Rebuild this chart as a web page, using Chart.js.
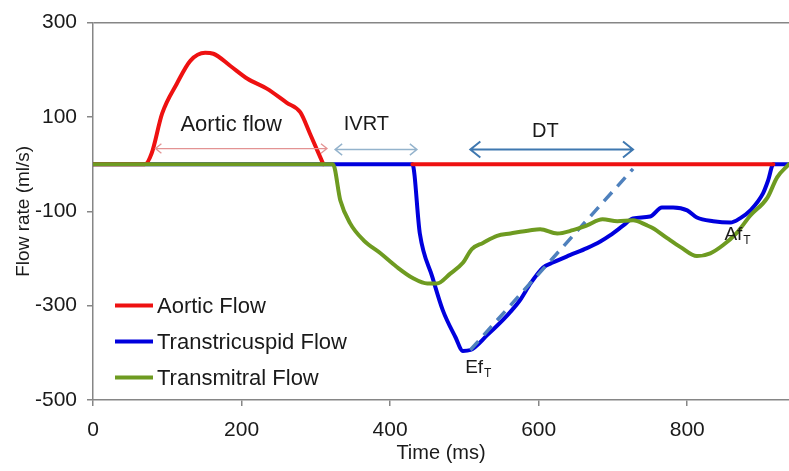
<!DOCTYPE html>
<html>
<head>
<meta charset="utf-8">
<script src="https://cdn.jsdelivr.net/npm/chart.js@4.4.1/dist/chart.umd.min.js"></script>
<style>
  html, body { margin: 0; padding: 0; background: #fff; }
  #wrap { width: 789px; height: 471px; }
</style>
</head>
<body>
<div id="wrap"><canvas id="grafico" width="789" height="471"></canvas></div>
<script>
// Time (ms) and flow (ml/s)
const aorticTime = [0, 70, 79, 93, 113, 131, 151, 162, 185, 208, 234, 261, 279, 292, 310, 370, 430, 916];
const aorticFlow = [0, 0, 23, 107, 171, 219, 236, 234, 208, 181, 160, 130, 110, 65, 0, null, 0, 0];

const tricTime = [0, 430, 440, 457, 471, 488, 498, 508, 531, 558, 575, 589, 606, 620, 642, 665, 683, 696, 714, 727, 750, 766, 781, 800, 813, 835, 858, 871, 885, 902, 909, 916, 937];
const tricFlow = [0, 0, -147, -240, -310, -367, -396, -394, -362, -320, -288, -253, -219, -208, -193, -178, -164, -151, -130, -115, -111, -92, -92, -98, -113, -121, -124, -115, -98, -62, -34, 0, 0];

const mitralTime = [0, 323, 333, 346, 364, 387, 409, 431, 450, 463, 481, 498, 510, 525, 544, 562, 589, 602, 625, 646, 665, 686, 706, 727, 746, 754, 773, 791, 813, 831, 848, 867, 885, 908, 921, 937];
const mitralFlow = [0, 0, -77, -125, -161, -189, -218, -242, -253, -253, -232, -209, -180, -167, -152, -147, -140, -138, -147, -140, -130, -117, -121, -119, -130, -136, -157, -176, -195, -189, -172, -145, -109, -71, -28, 0];

// deceleration slope (dashed)
const slopeTime = [508, 727];
const slopeFlow = [-394, -10];

const yTicks = [-500, -300, -100, 100, 300];
const xTicks = [0, 200, 400, 600, 800];

const seriesNames = ['Aortic Flow', 'Transtricuspid Flow', 'Transmitral Flow'];
const seriesColors = ['#ee1111', '#0000dd', '#6e9b21'];

const toPoints = (xs, ys) => xs.map((x, i) => ({ x: x, y: ys[i] }));

// interval arrows: [from ms, to ms, at flow, colour, width, head]
const arrows = [
  [84, 315, 33, '#e39393', 1.3, 6],
  [326, 436, 31, '#94b3cc', 1.5, 7],
  [508, 727, 31, '#3f78b0', 2, 10]
];
// labels: [text, sub, ms, flow, align, size]
const labels = [
  ['Aortic flow', '', 186, 84, 'center', 22],
  ['IVRT', '', 368, 84, 'center', 20],
  ['DT', '', 609, 69, 'center', 20],
  ['Ef', 'T', 501, -432, 'left', 19],
  ['Af', 'T', 850, -149, 'left', 19]
];

const extras = {
  id: 'extras',
  afterDatasetsDraw(chart) {
    const c = chart.ctx, xs = chart.scales.x, ys = chart.scales.y, area = chart.chartArea;
    c.save();
    arrows.forEach(a => {
      const x1 = xs.getPixelForValue(a[0]), x2 = xs.getPixelForValue(a[1]), y = ys.getPixelForValue(a[2]);
      c.strokeStyle = a[3]; c.lineWidth = a[4];
      c.beginPath();
      c.moveTo(x1, y); c.lineTo(x2, y);
      c.moveTo(x1 + a[5], y - a[5] * 0.8); c.lineTo(x1, y); c.lineTo(x1 + a[5], y + a[5] * 0.8);
      c.moveTo(x2 - a[5], y - a[5] * 0.8); c.lineTo(x2, y); c.lineTo(x2 - a[5], y + a[5] * 0.8);
      c.stroke();
    });
    c.fillStyle = '#1a1a1a';
    c.textBaseline = 'middle';
    labels.forEach(l => {
      const x = xs.getPixelForValue(l[2]), y = ys.getPixelForValue(l[3]);
      c.font = l[5] + 'px "Liberation Sans", Arial, sans-serif';
      c.textAlign = l[4];
      c.fillText(l[0], x, y);
      if (l[1]) {
        const w = c.measureText(l[0]).width;
        c.font = Math.round(l[5] * 0.65) + 'px "Liberation Sans", Arial, sans-serif';
        c.textAlign = 'left';
        c.fillText(l[1], x + w + 1, y + 6);
      }
    });
    // legend inside plot area
    c.font = '22px "Liberation Sans", Arial, sans-serif';
    c.textAlign = 'left';
    seriesNames.forEach((name, i) => {
      const y = area.top + 283 + i * 36;
      c.strokeStyle = seriesColors[i]; c.lineWidth = 4;
      c.beginPath(); c.moveTo(area.left + 22, y); c.lineTo(area.left + 60, y); c.stroke();
      c.fillStyle = '#1a1a1a';
      c.fillText(name, area.left + 64, y + 1);
    });
    c.restore();
  }
};

const lineStyle = { borderWidth: 4, pointRadius: 0, tension: 0.3, cubicInterpolationMode: 'monotone',
                    borderJoinStyle: 'round', borderCapStyle: 'round' };

new Chart(document.getElementById('grafico'), {
  type: 'line',
  data: {
    datasets: [
      Object.assign({ label: seriesNames[2], data: toPoints(mitralTime, mitralFlow),
        borderColor: seriesColors[2], order: 1 }, lineStyle),
      Object.assign({ label: seriesNames[0], data: toPoints(aorticTime, aorticFlow),
        borderColor: seriesColors[0], spanGaps: false, order: 2 }, lineStyle),
      {
        label: 'slope',
        data: toPoints(slopeTime, slopeFlow),
        borderColor: '#4f81bd', borderWidth: 3.5, borderDash: [12, 8], pointRadius: 0, order: 3
      },
      Object.assign({ label: seriesNames[1], data: toPoints(tricTime, tricFlow),
        borderColor: seriesColors[1], order: 4 }, lineStyle)
    ]
  },
  options: {
    responsive: false,
    animation: false,
    layout: { padding: { top: 22, right: 0, left: 0, bottom: 0 } },
    plugins: { legend: { display: false }, tooltip: { enabled: false } },
    scales: {
      x: {
        type: 'linear', min: 0, max: 937,
        afterFit: s => { s.height = 71; },
        afterBuildTicks: s => { s.ticks = xTicks.map(v => ({ value: v })); },
        border: { color: '#868686', width: 1.5 },
        grid: { drawOnChartArea: false, tickLength: 6, tickColor: '#868686', lineWidth: 1.5 },
        ticks: { color: '#1a1a1a', padding: 12, font: { size: 21, family: '"Liberation Sans", Arial' } },
        title: { display: true, text: 'Time (ms)', color: '#1a1a1a', padding: { top: 0, bottom: 6 },
                 font: { size: 20, family: '"Liberation Sans", Arial' } }
      },
      y: {
        min: -500, max: 300,
        afterFit: s => { s.width = 93; },
        afterBuildTicks: s => { s.ticks = yTicks.map(v => ({ value: v })); },
        border: { color: '#868686', width: 1.5 },
        grid: {
          tickLength: 6, tickColor: '#868686', lineWidth: 1.5,
          color: ctx => (ctx.tick && ctx.tick.value === 300) ? '#868686' : 'rgba(0,0,0,0)'
        },
        ticks: { color: '#1a1a1a', padding: 10, font: { size: 21, family: '"Liberation Sans", Arial' } },
        title: { display: true, text: 'Flow rate (ml/s)', color: '#1a1a1a', padding: { top: 12, bottom: 0 },
                 font: { size: 19, family: '"Liberation Sans", Arial' } }
      }
    }
  },
  plugins: [extras]
});
</script>
</body>
</html>
